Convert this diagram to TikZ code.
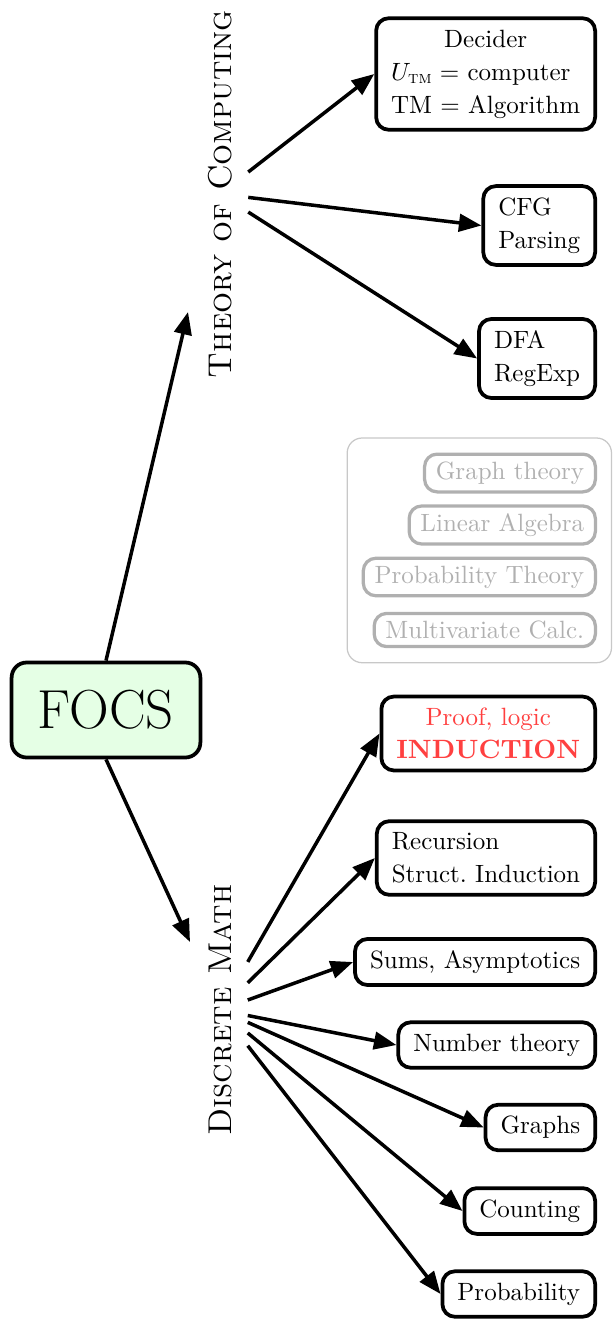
\documentclass[tikz,border=0pt]{standalone}
\usepackage{fontspec}
\usetikzlibrary{arrows.meta,fit}
\definecolor{focsgreen}{RGB}{229,255,229}
\definecolor{ghost}{RGB}{176,176,176}
\definecolor{ghostframe}{RGB}{200,200,200}
\definecolor{hot}{RGB}{255,64,64}
\begin{document}
\begin{tikzpicture}[x=0.4pt,y=-0.4pt,
  box/.style={draw, line width=1.5pt, rounded corners=5pt, inner xsep=6pt, inner ysep=4.6pt,
    font=\fontsize{10}{13.2}\selectfont, align=left, anchor=east},
  ghostbox/.style={draw=ghost, text=ghost, line width=1.3pt, rounded corners=5pt,
    inner xsep=4.5pt, inner ysep=3pt, font=\fontsize{10}{13}\selectfont, anchor=east},
  arr/.style={line width=1.4pt, -{Triangle[length=9pt,width=7pt]}},
  branch/.style={rotate=90, font=\fontsize{13.2}{16}\selectfont\scshape, inner sep=6.3pt}]
\useasboundingbox (0,0) rectangle (613,1324);

% root
\node[draw, line width=1.5pt, rounded corners=6pt, fill=focsgreen, minimum width=75.5pt,
  minimum height=38pt, font=\fontsize{22}{26}\selectfont] (FOCS) at (106,710) {FOCS};

% branches
\node[branch] (ToC) at (220,194) {Theory of Computing};
\node[branch] (DM) at (220,1010) {Discrete Math};

\coordinate (tocTip) at (188,312);
\coordinate (dmTip) at (190,942);
\draw[arr] (FOCS.north) -- (tocTip);
\draw[arr] (FOCS.south) -- (dmTip);

% theory of computing leaves
\node[box, align=none] (decider) at (597,74) {\vbox{\tabskip=0pt\halign{#\hfil\cr
  \hfil Decider\cr
  $U_{\mbox{\scriptsize\textsc{tm}}} =$ computer\cr
  TM $=$ Algorithm\cr}}};
\node[box] (cfg) at (597,225.5) {CFG\\Parsing};
\node[box] (dfa) at (597,358.5) {DFA\\RegExp};

\draw[arr] (ToC) -- (decider.west);
\draw[arr] (ToC) -- (cfg.west);
\draw[arr] (ToC) -- (dfa.west);

% greyed-out extras
\node[ghostbox] (gt) at (597,473) {Graph theory};
\node[ghostbox] (la) at (597,525) {Linear Algebra};
\node[ghostbox] (pt) at (597,577) {Probability Theory};
\node[ghostbox] (mc) at (597,630) {Multivariate Calc.};
\node[draw=ghostframe, line width=0.5pt, rounded corners=6pt, inner sep=5.8pt,
  fit=(gt)(la)(pt)(mc)] (extras) {};

% discrete math leaves
\node[box, align=center, text=hot] (proof) at (597,733.5)
  {Proof, logic\\{\fontsize{10.6}{13.2}\selectfont\bfseries INDUCTION}};
\node[box] (rec) at (597,858) {Recursion\\Struct.\ Induction};
\node[box] (sums) at (597,962) {Sums, Asymptotics};
\node[box] (num) at (597,1045) {Number theory};
\node[box] (graphs) at (597,1127.5) {Graphs};
\node[box] (count) at (597,1211) {Counting};
\node[box] (prob) at (597,1294) {Probability};

\draw[arr] (DM) -- (proof.west);
\draw[arr] (DM) -- (rec.west);
\draw[arr] (DM) -- (sums.west);
\draw[arr] (DM) -- (num.west);
\draw[arr] (DM) -- (graphs.west);
\draw[arr] (DM) -- (count.west);
\draw[arr] (DM) -- (prob.west);
\end{tikzpicture}
\end{document}
